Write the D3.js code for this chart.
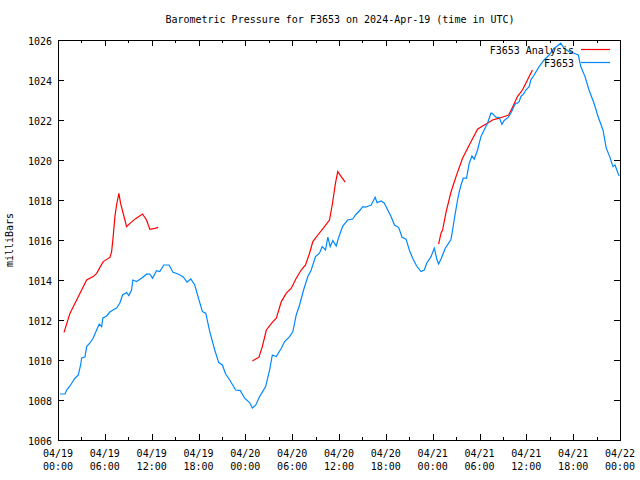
<!DOCTYPE html>
<html><head><meta charset="utf-8">
<script src="https://cdn.jsdelivr.net/npm/d3@7"></script>
<style>
body{margin:0;background:#fff}
text{font-family:"DejaVu Sans Mono","Liberation Mono",monospace;font-size:10px;fill:#000}
</style></head>
<body><svg id="c" width="640" height="480"></svg>
<script>
const title = "Barometric Pressure for F3653 on 2024-Apr-19 (time in UTC)";
const yLabel = "milliBars";
const xTickHours = [0,6,12,18,24,30,36,42,48,54,60,66,72];
const xTickDates = ["04/19","04/19","04/19","04/19","04/20","04/20","04/20","04/20","04/21","04/21","04/21","04/21","04/22"];
const xTickTimes = ["00:00","06:00","12:00","18:00","00:00","06:00","12:00","18:00","00:00","06:00","12:00","18:00","00:00"];
const yTicks = [1006,1008,1010,1012,1014,1016,1018,1020,1022,1024,1026];
const seriesNames = ["F3653 Analysis","F3653"];

// Observed series (hours since 04/19 00:00, mbar)
const obsHours = [0.26,0.90,1.11,1.53,2.17,2.60,2.90,3.03,3.45,3.67,4.09,4.51,4.95,5.28,5.59,5.75,6.23,6.65,7.03,7.51,7.93,8.27,8.79,9.08,9.42,9.59,10.06,10.70,11.34,11.76,12.11,12.62,13.04,13.55,14.23,14.74,15.38,16.02,16.53,17.01,17.52,17.94,18.50,18.93,19.44,20.08,20.59,21.06,21.48,22.00,22.76,23.36,23.91,24.55,24.90,25.32,25.83,26.60,27.11,27.46,27.97,28.61,29.03,29.67,30.09,30.52,30.95,31.46,32.01,32.44,32.99,33.50,33.85,34.27,34.57,34.87,35.21,35.64,35.97,36.48,37.12,37.76,38.11,38.71,39.04,39.39,40.12,40.63,40.88,41.40,41.82,42.24,42.67,43.10,43.65,44.08,44.59,45.01,45.44,45.95,46.51,46.93,47.23,47.79,48.21,48.53,48.76,49.07,49.62,50.13,50.35,50.55,50.90,51.19,51.41,51.63,51.92,52.34,52.69,53.03,53.32,53.75,54.18,54.39,54.82,55.03,55.46,55.59,56.10,56.52,56.87,57.16,57.71,58.02,58.22,58.44,58.66,58.86,59.08,59.30,59.72,59.94,60.36,60.58,61.00,61.64,62.28,62.92,63.55,63.98,64.41,64.83,65.47,66.11,66.66,66.97,67.52,68.03,68.67,69.22,69.82,70.24,70.68,71.10,71.36,71.78,71.91];
const obsValues = [1008.30,1008.30,1008.50,1008.70,1009.09,1009.25,1009.75,1010.10,1010.15,1010.67,1010.85,1011.10,1011.50,1011.80,1011.67,1012.10,1012.20,1012.40,1012.50,1012.60,1012.85,1013.25,1013.37,1013.22,1013.50,1014.00,1013.92,1014.09,1014.29,1014.30,1014.09,1014.47,1014.42,1014.75,1014.75,1014.39,1014.30,1014.17,1013.89,1014.05,1013.75,1013.17,1012.42,1012.34,1011.42,1010.50,1009.87,1009.75,1009.30,1009.00,1008.50,1008.47,1008.09,1007.87,1007.60,1007.74,1008.17,1008.67,1009.50,1010.25,1010.17,1010.59,1010.92,1011.17,1011.42,1012.25,1012.75,1013.50,1014.17,1014.50,1015.17,1015.34,1015.67,1015.50,1016.14,1015.67,1015.97,1015.70,1016.14,1016.70,1017.00,1017.05,1017.25,1017.50,1017.67,1017.64,1017.75,1018.14,1017.87,1017.95,1017.84,1017.50,1017.17,1016.75,1016.62,1016.14,1016.04,1015.50,1015.09,1014.70,1014.42,1014.50,1014.84,1015.17,1015.59,1015.05,1014.80,1015.05,1015.59,1015.89,1016.04,1016.50,1017.34,1018.00,1018.42,1018.75,1019.09,1019.09,1019.84,1020.20,1020.04,1020.50,1021.17,1021.34,1021.67,1021.84,1022.34,1022.34,1022.14,1022.13,1021.78,1021.98,1022.14,1022.35,1022.50,1022.70,1022.84,1022.84,1022.92,1023.17,1023.34,1023.50,1023.67,1024.00,1024.25,1024.67,1025.00,1025.25,1025.59,1025.70,1025.84,1025.59,1025.42,1025.34,1025.25,1024.67,1024.17,1023.50,1022.84,1022.14,1021.50,1020.59,1020.17,1019.67,1019.75,1019.30,1019.20];

// Analysis series, three runs
const anaHours1 = [0.77,1.53,2.39,3.67,4.51,4.95,5.79,6.65,6.87,7.07,7.29,7.50,7.80,8.02,8.57,8.78,9.21,9.98,10.83,11.34,11.77,12.41,12.83];
const anaValues1 = [1011.38,1012.33,1013.00,1014.00,1014.17,1014.33,1014.92,1015.13,1015.42,1016.17,1017.17,1017.75,1018.33,1017.83,1017.00,1016.67,1016.83,1017.08,1017.30,1017.00,1016.53,1016.58,1016.63];
const anaHours2 = [24.90,25.74,26.18,26.69,27.53,27.97,28.61,29.25,29.89,30.52,31.16,31.71,32.23,32.65,33.29,34.14,34.78,35.13,35.55,35.84,36.28,36.79];
const anaValues2 = [1009.95,1010.14,1010.67,1011.50,1011.92,1012.09,1012.92,1013.34,1013.59,1014.09,1014.50,1014.75,1015.34,1015.92,1016.25,1016.67,1017.00,1017.75,1018.84,1019.42,1019.17,1018.89];
const anaHours3 = [48.76,49.07,49.27,49.71,50.35,50.99,51.83,52.69,53.75,54.39,55.03,55.67,56.52,57.74,58.22,58.86,59.50,60.14,60.78];
const anaValues3 = [1015.79,1016.34,1016.50,1017.38,1018.40,1019.17,1020.09,1020.75,1021.54,1021.70,1021.84,1022.00,1022.09,1022.25,1022.63,1023.17,1023.50,1024.00,1024.50];

const L=58, R=620, T=40, B=440;
const svg = d3.select("#c");
const x = d3.scaleLinear().domain([0,72]).range([L,R]);
const y = d3.scaleLinear().domain([1006,1026]).range([B,T]);
const RED="#ff0000", BLUE="#0088ff";

// frame
svg.append("rect").attr("x",L+0.5).attr("y",T+0.5).attr("width",R-L).attr("height",B-T)
  .attr("fill","none").attr("stroke","#000").attr("stroke-width",1);

const minorHours = d3.range(0,73,3);
// x ticks (bottom & top)
minorHours.forEach(h=>{
  const len = (h%6===0)?6:3;
  const px = Math.round(x(h))+0.5;
  svg.append("line").attr("x1",px).attr("x2",px).attr("y1",B).attr("y2",B-len).attr("stroke","#000");
  svg.append("line").attr("x1",px).attr("x2",px).attr("y1",T).attr("y2",T+len).attr("stroke","#000");
});
yTicks.forEach(v=>{
  const py = Math.round(y(v))+0.5;
  svg.append("line").attr("x1",L).attr("x2",L+6).attr("y1",py).attr("y2",py).attr("stroke","#000");
  svg.append("line").attr("x1",R).attr("x2",R-6).attr("y1",py).attr("y2",py).attr("stroke","#000");
  svg.append("text").attr("x",L-6).attr("y",py+4).attr("text-anchor","end").text(v);
});
xTickHours.forEach((h,i)=>{
  svg.append("text").attr("x",x(h)).attr("y",457).attr("text-anchor","middle").text(xTickDates[i]);
  svg.append("text").attr("x",x(h)).attr("y",470).attr("text-anchor","middle").text(xTickTimes[i]);
});

svg.append("text").attr("x",340).attr("y",23).attr("text-anchor","middle").text(title);
svg.append("text").attr("transform","translate(13,240) rotate(-90)").attr("text-anchor","middle").text(yLabel);

const line = d3.line().x(d=>x(d[0])).y(d=>y(d[1]));
const draw=(hs,vs,col)=>svg.append("path").datum(hs.map((h,i)=>[h,vs[i]]))
  .attr("d",line).attr("fill","none").attr("stroke",col).attr("stroke-width",1.2);
draw(anaHours1,anaValues1,RED);
draw(anaHours2,anaValues2,RED);
draw(anaHours3,anaValues3,RED);
draw(obsHours,obsValues,BLUE);

// legend
[[seriesNames[0],RED,49.5],[seriesNames[1],BLUE,62.5]].forEach(([n,c,ly])=>{
  svg.append("text").attr("x",574).attr("y",ly+4).attr("text-anchor","end").text(n);
  svg.append("line").attr("x1",581).attr("x2",610).attr("y1",ly).attr("y2",ly).attr("stroke",c).attr("stroke-width",1.2);
});
</script></body></html>
